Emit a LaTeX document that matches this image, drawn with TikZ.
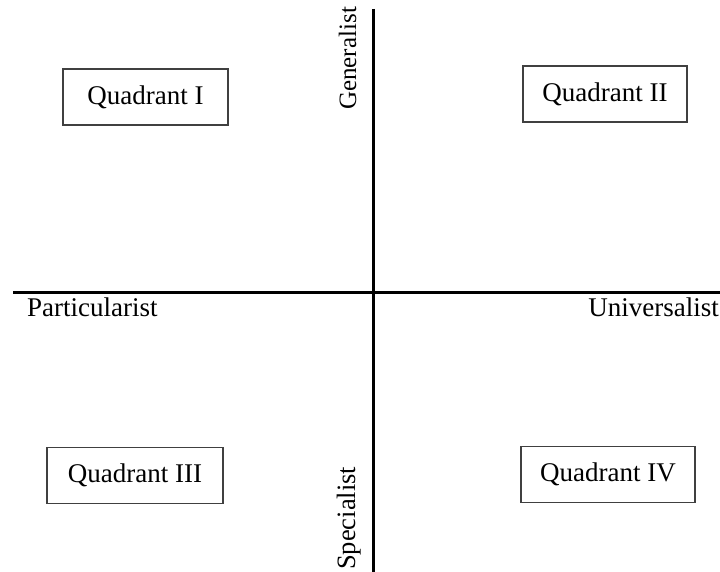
\documentclass[tikz,border=0pt]{standalone}
\usepackage{fontspec}
\setmainfont{Liberation Serif}
\begin{document}
\begin{tikzpicture}[x=1pt,y=1pt,
  quadbox/.style={draw=black!75, line width=1.2pt, minimum width=#1, minimum height=56pt, inner sep=0pt, font=\fontsize{27}{31}\selectfont},
  axislabel/.style={inner sep=0pt, font=\fontsize{27}{31}\selectfont},
  axisline/.style={line width=3pt, black}]
\useasboundingbox (0,0) rectangle (720,572);
\fill[white] (0,0) rectangle (720,572);
% axes
\coordinate (hl) at (13,279.5);
\coordinate (hr) at (720,279.5);
\coordinate (vt) at (373,563);
\coordinate (vb) at (373,0);
\draw[axisline] (hl) -- (hr);
\draw[axisline] (vt) -- (vb);
% boxes
\node[quadbox=165pt] (q1) at (145.5,475) {Quadrant I};
\node[quadbox=164pt] (q2) at (605,478) {Quadrant II};
\node[quadbox=176pt] (q3) at (135,96.5) {Quadrant III};
\node[quadbox=174pt] (q4) at (608,97.5) {Quadrant IV};
% axis labels
\node[axislabel, anchor=base west] (part) at (27,255) {Particularist};
\node[axislabel, anchor=base east] (univ) at (719,255) {Universalist};
\node[axislabel, font=\fontsize{25}{29}\selectfont, rotate=90, anchor=base west] (gen) at (356,462) {Generalist};
\node[axislabel, font=\fontsize{26.5}{30}\selectfont, rotate=90, anchor=base west] (spec) at (355,2) {Specialist};
\end{tikzpicture}
\end{document}
